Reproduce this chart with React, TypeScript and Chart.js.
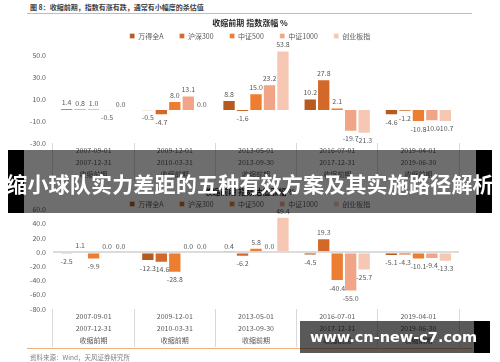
import React, { useEffect, useRef } from 'react';
import { Chart, registerables } from 'chart.js';

Chart.register(...registerables);

// ---------- data ----------
const seriesNames = ['万得全A', '沪深300', '中证500', '中证1000', '创业板指'];
const seriesColors = ['#B65A20', '#D2692A', '#ED7D31', '#F1A586', '#F6C7B3'];
const periodStarts = ['2007-09-01', '2009-12-01', '2013-05-01', '2016-07-01', '2019-04-01'];
const periodEnds = ['2007-12-31', '2010-03-31', '2013-09-30', '2017-12-31', '2019-06-30'];
const phaseLabel = '收缩前期';

const figureTitle = '图 8：收缩前期，指数有涨有跌，通常有小幅度的杀估值';
const chart1Title = '收缩前期 指数涨幅 %';
const chart2Title = '收缩前期 指数估值涨幅 %';
const sourceText = '资料来源：Wind，天风证券研究所';
const bannerText = '缩小球队实力差距的五种有效方案及其实施路径解析';
const watermarkText = 'www.cn-new-c7.com';

// chart 1: index change %
const priceWindA = [1.4, -0.5, 8.8, 10.2, -4.6];
const priceHS300 = [0.8, -4.7, -1.6, 27.8, -1.2];
const priceZZ500 = [1.0, 8.0, 15.0, 2.1, -10.8];
const priceZZ1000 = [-0.5, 13.1, 23.2, -19.7, -10.0];
const priceChiNext = [0.0, 0.0, 53.8, -21.3, -10.7];

// chart 2: valuation change %
const valWindA = [-2.5, -12.3, 0.4, -4.5, -5.1];
const valHS300 = [1.1, -14.6, -6.2, 19.3, -4.3];
const valZZ500 = [-9.9, -28.8, 5.8, -40.4, -10.1];
const valZZ1000 = [0.0, 0.0, 0.0, -55.0, -9.4];
const valChiNext = [0.0, 0.0, 49.4, -25.7, -13.3];

const chart1Axis = { min: -30, max: 60, step: 10 };
const chart2Axis = { min: -80, max: 60, step: 20 };

// ---------- plugins ----------
const valueLabels = {
  id: 'valueLabels',
  afterDatasetsDraw(chart: any) {
    const ctx = chart.ctx;
    ctx.save();
    ctx.font = '7px "Noto Sans CJK SC", "Noto Sans", sans-serif';
    ctx.fillStyle = '#595959';
    ctx.textAlign = 'center';
    ctx.textBaseline = 'middle';
    chart.data.datasets.forEach((ds: any, i: number) => {
      const meta = chart.getDatasetMeta(i);
      meta.data.forEach((bar: any, j: number) => {
        const v = ds.data[j] as number;
        const y = v >= 0 ? bar.y - 6 : bar.y + 7;
        ctx.fillText(v.toFixed(1), bar.x, y);
      });
    });
    ctx.restore();
  },
};

const legendHeightFix = {
  id: 'legendHeightFix',
  afterInit(chart: any, _a: any, opts: any) {
    const legend = chart.legend;
    if (!legend) return;
    const fit = legend.fit;
    legend.fit = function () {
      fit.call(this);
      this.height = opts.height;
    };
  },
};

const FONT = '"Noto Sans CJK SC", "Noto Sans", sans-serif';

function buildConfig(
  series: number[][],
  title: string,
  axis: { min: number; max: number; step: number },
  titlePad: { top: number; bottom: number },
  legendHeight: number
): any {
  const labels = periodStarts.map((s, i) => [s, periodEnds[i], phaseLabel]);
  return {
    type: 'bar',
    data: {
      labels,
      datasets: series.map((d, i) => ({
        label: seriesNames[i],
        data: d,
        backgroundColor: seriesColors[i],
        borderColor: 'rgba(255,255,255,0.45)',
        borderWidth: 0.8,
        yAxisID: 'y',
        categoryPercentage: 0.83,
        barPercentage: 0.96,
      })),
    },
    options: {
      responsive: false,
      animation: false,
      devicePixelRatio: 1,
      layout: { padding: 0 },
      font: { family: FONT },
      plugins: {
        tooltip: { enabled: false },
        title: {
          display: true,
          text: title,
          color: '#262626',
          font: { family: FONT, size: 8, weight: 'bold' },
          padding: titlePad,
        },
        legend: {
          display: true,
          position: 'top',
          labels: {
            boxWidth: 5,
            boxHeight: 5,
            padding: 16,
            color: '#595959',
            font: { family: FONT, size: 7 },
          },
        },
        legendHeightFix: { height: legendHeight },
      },
      scales: {
        x: {
          grid: {
            display: true,
            drawOnChartArea: false,
            drawTicks: true,
            tickLength: 38,
            color: '#d9d9d9',
            lineWidth: 1,
            offset: true,
          },
          border: { display: false },
          ticks: {
            autoSkip: false,
            maxRotation: 0,
            minRotation: 0,
            padding: -36.5,
            color: '#595959',
            font: { family: FONT, size: 7, lineHeight: '12px' },
          },
          afterFit: (s: any) => {
            s.height = 41;
          },
        },
        y: {
          min: axis.min,
          max: axis.max,
          position: 'left',
          ticks: {
            stepSize: axis.step,
            padding: 7,
            color: '#595959',
            font: { family: FONT, size: 7 },
            callback: (v: any) => Number(v).toFixed(1),
          },
          grid: {
            drawTicks: false,
            color: (c: any) => (c.tick && c.tick.value === 0 ? '#dcdcdc' : 'rgba(0,0,0,0)'),
            lineWidth: (c: any) => (c.tick && c.tick.value === 0 ? 2 : 0),
          },
          border: { display: false },
          afterFit: (s: any) => {
            s.width = 53;
          },
        },
        y2: {
          type: 'linear',
          position: 'right',
          display: true,
          grid: { display: false },
          ticks: { display: false },
          border: { display: false },
          afterFit: (s: any) => {
            s.width = 41;
          },
        },
      },
    },
    plugins: [valueLabels, legendHeightFix],
  };
}

function BarChart(props: {
  series: number[][];
  title: string;
  axis: { min: number; max: number; step: number };
  titlePad: { top: number; bottom: number };
  legendHeight: number;
  top: number;
}) {
  const ref = useRef<HTMLCanvasElement | null>(null);
  useEffect(() => {
    if (!ref.current) return;
    const chart = new Chart(
      ref.current,
      buildConfig(props.series, props.title, props.axis, props.titlePad, props.legendHeight)
    );
    return () => chart.destroy();
  }, []);
  return (
    <canvas
      ref={ref}
      width={500}
      height={170}
      style={{ position: 'absolute', left: 0, top: props.top, width: 500, height: 170, display: 'block' }}
    />
  );
}

export default function App() {
  return (
    <div
      style={{
        position: 'absolute',
        left: 0,
        top: 0,
        width: 500,
        height: 362,
        background: '#ffffff',
        overflow: 'hidden',
        fontFamily: FONT,
      }}
    >
      <div
        style={{
          position: 'absolute',
          left: 30,
          top: 3,
          fontSize: 7,
          lineHeight: '8px',
          color: '#404040',
          fontWeight: 600,
          whiteSpace: 'nowrap',
        }}
      >
        {figureTitle}
      </div>
      <div style={{ position: 'absolute', left: 27, top: 13, width: 445, height: 1, background: '#F4AE7C' }} />

      <BarChart
        series={[priceWindA, priceHS300, priceZZ500, priceZZ1000, priceChiNext]}
        title={chart1Title}
        axis={chart1Axis}
        titlePad={{ top: 4, bottom: -11 }}
        legendHeight={27.4}
        top={14}
      />
      <BarChart
        series={[valWindA, valHS300, valZZ500, valZZ1000, valChiNext]}
        title={chart2Title}
        axis={chart2Axis}
        titlePad={{ top: 7.2, bottom: -12.3 }}
        legendHeight={25}
        top={180}
      />

      <div style={{ position: 'absolute', left: 27, top: 348, width: 445, height: 1, background: '#F4AE7C' }} />
      <div
        style={{
          position: 'absolute',
          left: 30,
          top: 353,
          fontSize: 6.5,
          lineHeight: '8px',
          color: '#808080',
          whiteSpace: 'nowrap',
        }}
      >
        {sourceText}
      </div>

      {/* banner overlay */}
      <div style={{ position: 'absolute', left: 24, top: 150, width: 452, height: 63, background: 'rgba(0,0,0,0.57)' }} />
      <div style={{ position: 'absolute', left: 8, top: 150, width: 16, height: 63, background: '#000' }} />
      <div style={{ position: 'absolute', left: 476, top: 150, width: 16, height: 63, background: '#000' }} />
      <div
        style={{
          position: 'absolute',
          left: 0,
          top: 172,
          width: 500,
          textAlign: 'center',
          fontSize: 21,
          lineHeight: '22px',
          fontWeight: 700,
          color: '#ffffff',
          whiteSpace: 'nowrap',
          letterSpacing: 0.2,
        }}
      >
        {bannerText}
      </div>

      {/* watermark */}
      <div style={{ position: 'absolute', left: 300, top: 321, width: 174, height: 32, background: 'rgba(0,0,0,0.65)' }} />
      <div style={{ position: 'absolute', left: 474, top: 321, width: 16, height: 32, background: '#000' }} />
      <div
        style={{
          position: 'absolute',
          left: 310,
          top: 328,
          fontFamily: '"DejaVu Sans", sans-serif',
          fontSize: 14.5,
          lineHeight: '18px',
          fontWeight: 700,
          color: '#ffffff',
          whiteSpace: 'nowrap',
        }}
      >
        {watermarkText}
      </div>
    </div>
  );
}
